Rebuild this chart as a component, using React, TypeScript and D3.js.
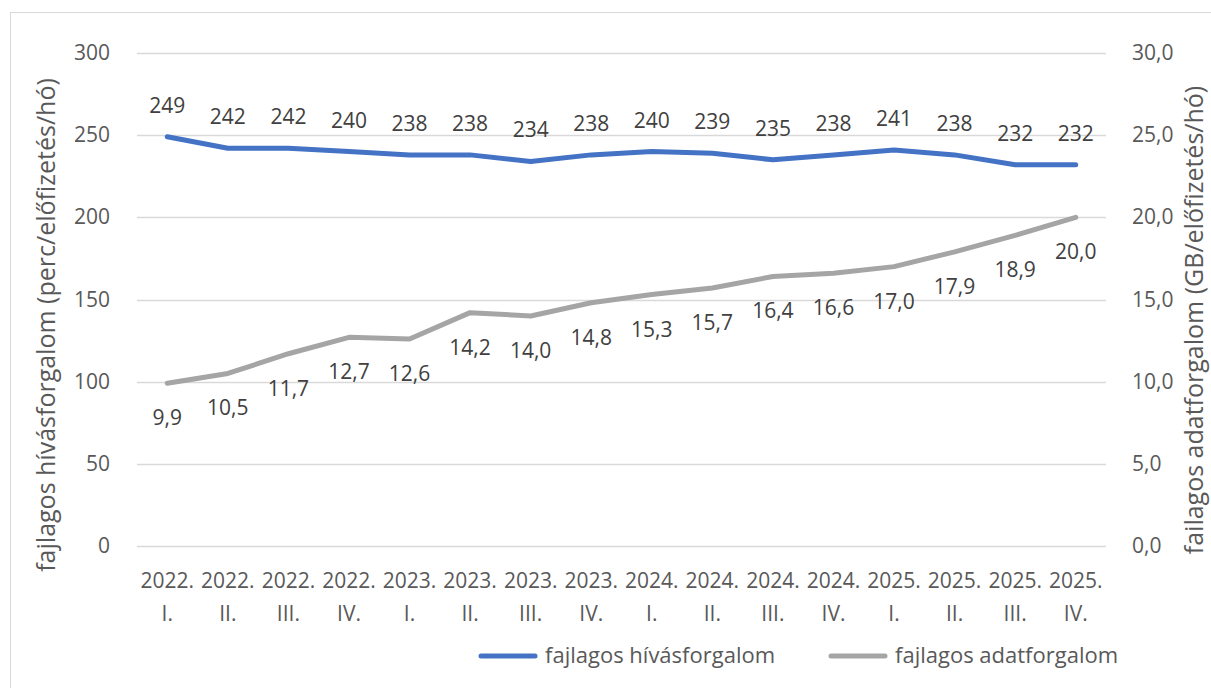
import React, { useEffect, useRef } from "react";
import * as d3 from "d3";

const years = ["2022.", "2022.", "2022.", "2022.", "2023.", "2023.", "2023.", "2023.", "2024.", "2024.", "2024.", "2024.", "2025.", "2025.", "2025.", "2025."];
const quarters = ["I.", "II.", "III.", "IV.", "I.", "II.", "III.", "IV.", "I.", "II.", "III.", "IV.", "I.", "II.", "III.", "IV."];
const callTraffic = [249, 242, 242, 240, 238, 238, 234, 238, 240, 239, 235, 238, 241, 238, 232, 232];
const dataTraffic = [9.9, 10.5, 11.7, 12.7, 12.6, 14.2, 14.0, 14.8, 15.3, 15.7, 16.4, 16.6, 17.0, 17.9, 18.9, 20.0];
const leftTicks = [0, 50, 100, 150, 200, 250, 300];
const rightTicks = [0, 5, 10, 15, 20, 25, 30];
const seriesNames = ["fajlagos hívásforgalom", "fajlagos adatforgalom"];
const leftTitle = "fajlagos hívásforgalom (perc/előfizetés/hó)";
const rightTitle = "failagos adatforgalom (GB/előfizetés/hó)";

const W = 1211;
const H = 688;
const FONT = "'Open Sans', 'Noto Sans', sans-serif";
const BLUE = "#4472C4";
const GRAY = "#A5A5A5";

const fmt = (v: number) => v.toFixed(1).replace(".", ",");

const App = () => {
  const ref = useRef<SVGSVGElement>(null);

  useEffect(() => {
    const svg = d3.select(ref.current);
    svg.selectAll("*").remove();

    const margin = { top: 53, right: 105, bottom: 142, left: 137 };
    const innerWidth = W - margin.left - margin.right;
    const innerHeight = H - margin.top - margin.bottom;

    // chart frame
    svg
      .append("rect")
      .attr("x", 10.5)
      .attr("y", 12.5)
      .attr("width", 1240)
      .attr("height", 720)
      .attr("fill", "#fff")
      .attr("stroke", "#d9d9d9");

    const idx = d3.range(callTraffic.length);
    const x = d3.scaleBand<number>().domain(idx).range([0, innerWidth]);
    const cx = (i: number) => (x(i) as number) + x.bandwidth() / 2;
    const yL = d3.scaleLinear().domain([0, 300]).range([innerHeight, 0]);
    const yR = d3.scaleLinear().domain([0, 30]).range([innerHeight, 0]);

    const g = svg
      .append("g")
      .attr("transform", `translate(${margin.left},${margin.top})`);

    // gridlines
    g.selectAll(".grid")
      .data(leftTicks)
      .enter()
      .append("line")
      .attr("x1", 0)
      .attr("x2", innerWidth)
      .attr("y1", (d) => Math.round(yL(d)) + 0.5)
      .attr("y2", (d) => Math.round(yL(d)) + 0.5)
      .attr("stroke", "#d9d9d9")
      .attr("stroke-width", 1.5);

    // left axis labels
    g.selectAll(".ltick")
      .data(leftTicks)
      .enter()
      .append("text")
      .attr("x", -27)
      .attr("y", (d) => yL(d) + 7)
      .attr("text-anchor", "end")
      .attr("font-family", FONT)
      .attr("font-size", 21)
      .attr("fill", "#595959")
      .text((d) => d);

    // right axis labels
    g.selectAll(".rtick")
      .data(rightTicks)
      .enter()
      .append("text")
      .attr("x", innerWidth + 26)
      .attr("y", (d) => yR(d) + 7)
      .attr("text-anchor", "start")
      .attr("font-family", FONT)
      .attr("font-size", 21)
      .attr("fill", "#595959")
      .text((d) => fmt(d));

    // x axis labels, two rows
    [years, quarters].forEach((row, r) => {
      g.selectAll(".xlab" + r)
        .data(idx)
        .enter()
        .append("text")
        .attr("x", (d) => cx(d))
        .attr("y", innerHeight + 42 + r * 33)
        .attr("text-anchor", "middle")
        .attr("font-family", FONT)
        .attr("font-size", 21)
        .attr("fill", "#595959")
        .text((d) => row[d]);
    });

    // lines
    const lineL = d3
      .line<number>()
      .x((d, i) => cx(i))
      .y((d) => yL(d));
    const lineR = d3
      .line<number>()
      .x((d, i) => cx(i))
      .y((d) => yR(d));

    g.append("path")
      .datum(dataTraffic)
      .attr("d", lineR)
      .attr("fill", "none")
      .attr("stroke", GRAY)
      .attr("stroke-width", 5)
      .attr("stroke-linecap", "round")
      .attr("stroke-linejoin", "round");

    g.append("path")
      .datum(callTraffic)
      .attr("d", lineL)
      .attr("fill", "none")
      .attr("stroke", BLUE)
      .attr("stroke-width", 5)
      .attr("stroke-linecap", "round")
      .attr("stroke-linejoin", "round");

    // data labels
    g.selectAll(".lblL")
      .data(callTraffic)
      .enter()
      .append("text")
      .attr("x", (d, i) => cx(i))
      .attr("y", (d) => yL(d) - 24)
      .attr("text-anchor", "middle")
      .attr("font-family", FONT)
      .attr("font-size", 21)
      .attr("fill", "#404040")
      .text((d) => d);

    g.selectAll(".lblR")
      .data(dataTraffic)
      .enter()
      .append("text")
      .attr("x", (d, i) => cx(i))
      .attr("y", (d) => yR(d) + 42)
      .attr("text-anchor", "middle")
      .attr("font-family", FONT)
      .attr("font-size", 21)
      .attr("fill", "#404040")
      .text((d) => fmt(d));

    // axis titles
    svg
      .append("text")
      .attr("transform", "translate(55,325) rotate(-90)")
      .attr("text-anchor", "middle")
      .attr("font-family", FONT)
      .attr("font-size", 25)
      .attr("fill", "#595959")
      .text(leftTitle);

    svg
      .append("text")
      .attr("transform", "translate(1203,320) rotate(-90)")
      .attr("text-anchor", "middle")
      .attr("font-family", FONT)
      .attr("font-size", 25)
      .attr("fill", "#595959")
      .text(rightTitle);

    // legend
    const items = [
      { name: seriesNames[0], color: BLUE, x: 481 },
      { name: seriesNames[1], color: GRAY, x: 831 },
    ];
    items.forEach((it) => {
      svg
        .append("line")
        .attr("x1", it.x)
        .attr("x2", it.x + 54)
        .attr("y1", 656)
        .attr("y2", 656)
        .attr("stroke", it.color)
        .attr("stroke-width", 5)
        .attr("stroke-linecap", "round");
      svg
        .append("text")
        .attr("x", it.x + 64)
        .attr("y", 663)
        .attr("font-family", FONT)
        .attr("font-size", 22)
        .attr("fill", "#595959")
        .text(it.name);
    });
  }, []);

  return (
    <svg
      ref={ref}
      width={W}
      height={H}
      style={{ position: "absolute", left: 0, top: 0, background: "#fff" }}
    />
  );
};

export default App;
